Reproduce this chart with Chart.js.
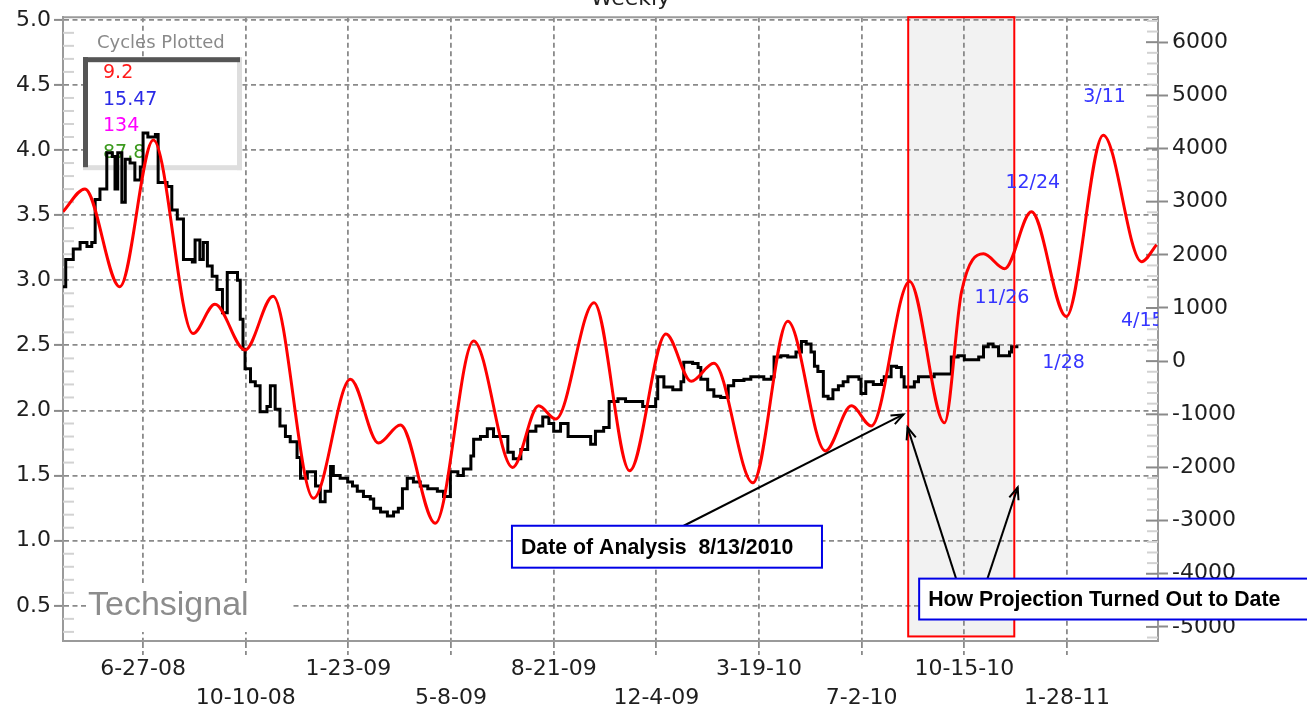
<!DOCTYPE html>
<html>
<head>
<meta charset="utf-8">
<title>Weekly cycle projection</title>
<script src="https://cdn.jsdelivr.net/npm/chart.js@4.4.1/dist/chart.umd.min.js"></script>
<style>
  html, body { margin: 0; padding: 0; background: #fff; }
  #wrap { width: 1307px; height: 706px; }
</style>
</head>
<body>
<div id="wrap"><canvas id="chart" width="1307" height="706"></canvas></div>
<script>
// x axis is counted in weeks from 6-27-08
const tickWeeks = [0, 15, 30, 45, 60, 75, 90, 105, 120, 135];
const tickLabels = ['6-27-08', '10-10-08', '1-23-09', '5-8-09', '8-21-09', '12-4-09', '3-19-10', '7-2-10', '10-15-10', '1-28-11'];
const weekMin = -11.7, weekMax = 148.3;

const leftTicks = [0.5, 1.0, 1.5, 2.0, 2.5, 3.0, 3.5, 4.0, 4.5, 5.0];
const leftMin = 0.23, leftMax = 5.02;
const rightTicks = [-5000, -4000, -3000, -2000, -1000, 0, 1000, 2000, 3000, 4000, 5000, 6000];
const rightMin = -5265, rightMax = 6470;

// black weekly price (left axis)
const priceWeeks = [-11.7,-11.3,-10.2,-9.2,-8.2,-7.5,-7.0,-6.3,-5.3,-4.5,
  -4.1,-3.7,-3.1,-2.6,-1.9,-1.2,-0.4,0,0.7,1.8,
  2.2,3.5,4.2,5.0,5.9,7.2,7.6,8.3,8.8,9.4,
  10.1,10.8,11.6,12.3,13.8,14.2,14.6,14.9,15.7,16.4,
  17.1,18.1,18.6,19.3,20.0,20.8,21.5,22.5,23.0,24.0,
  25.2,25.9,26.6,27.4,27.8,28.8,29.9,30.6,31.3,32.2,
  33.2,33.7,34.7,35.7,36.6,37.3,37.9,38.6,39.5,40.5,
  41.6,43.0,43.9,44.9,46.0,46.8,47.9,48.3,49.3,50.3,
  51.2,52.2,53.3,54.1,55.2,56.2,57.4,58.4,59.3,60.0,
  61.0,62.1,63.5,64.7,65.4,66.1,67.3,68.1,69.4,70.5,
  71.7,73.0,74.2,74.9,75.2,76.1,77.4,78.6,79.0,80.3,
  81.1,81.5,82.5,83.4,84.4,85.5,86.3,87.8,88.8,89.9,
  90.7,91.8,92.2,93.2,94.2,95.4,96.2,96.9,97.6,98.1,
  98.6,99.4,100.1,100.8,101.6,102.3,103.0,103.8,104.6,104.9,
  105.6,106.7,107.9,108.3,109.3,110.1,110.8,111.2,112.0,112.7,
  113.3,114.7,115.6,116.6,117.7,118.1,119.1,120.0,121.0,122.1,
  122.8,123.5,124.2,125.0,125.7,126.6,126.9,127.9];
const priceValues = [2.95,3.16,3.24,3.29,3.26,3.29,3.62,3.70,3.98,3.95,
  3.70,3.98,3.60,3.93,3.90,3.77,3.87,4.13,4.10,4.12,
  3.75,3.72,3.54,3.47,3.16,3.14,3.31,3.16,3.29,3.11,
  3.03,2.93,2.75,3.06,3.00,2.70,2.47,2.32,2.22,2.19,
  1.99,2.03,2.19,2.01,1.88,1.80,1.76,1.64,1.48,1.53,
  1.42,1.30,1.38,1.57,1.50,1.48,1.45,1.42,1.38,1.34,
  1.32,1.25,1.22,1.19,1.22,1.25,1.40,1.48,1.45,1.42,
  1.40,1.38,1.34,1.53,1.50,1.55,1.65,1.78,1.80,1.86,
  1.80,1.80,1.68,1.63,1.70,1.84,1.88,1.95,1.90,1.84,
  1.90,1.80,1.80,1.80,1.74,1.84,1.87,2.07,2.09,2.07,
  2.07,2.03,2.03,2.09,2.26,2.18,2.16,2.22,2.37,2.36,
  2.33,2.24,2.16,2.11,2.10,2.19,2.23,2.24,2.26,2.26,
  2.24,2.26,2.41,2.42,2.41,2.45,2.53,2.51,2.45,2.34,
  2.30,2.11,2.09,2.16,2.19,2.22,2.26,2.26,2.24,2.13,
  2.22,2.20,2.23,2.26,2.34,2.33,2.26,2.18,2.18,2.22,
  2.26,2.26,2.28,2.28,2.28,2.41,2.42,2.39,2.39,2.41,
  2.49,2.51,2.49,2.42,2.42,2.45,2.49,2.49];

// red composite cycle (right axis)
const cycleWeeks = [-11.7,-8.5,-3.4,1.5,7.3,10.5,14.9,19.0,24.9,30.3,
  34.4,37.6,42.7,48.3,54.0,57.8,60.3,65.9,71.1,76.4,
  80.1,83.4,89.1,94.2,99.7,103.5,106.4,112.0,117.1,119.6,
  122.8,125.9,129.8,134.9,140.3,145.9,148.1];
const cycleValues = [2810,3240,1400,4160,520,1070,210,1220,-2580,-340,
  -1540,-1200,-3050,380,-2000,-840,-1090,1100,-2060,510,
  -380,-40,-2290,750,-1690,-840,-1220,1500,-1160,1310,
  2020,1740,2810,840,4250,1870,2190];

const cyclesPlotted = ['9.2', '15.47', '134', '87.8'];
const cyclesColors = ['#ff1a1a', '#2a2ae6', '#ff00ff', '#3c9a1e'];

// turning-point dates written on the projection
const dateLabels = ['3/11', '12/24', '11/26', '4/15', '1/28'];
const dateLabelWeeks = [140.5, 130.0, 125.5, 146.0, 134.5];
const dateLabelLevels = [4960, 3350, 1180, 750, -40];

// shaded window: analysis date to last actual week
const projStart = 111.8, projEnd = 127.3, projBottom = 0.265;

const pricePoints = priceWeeks.map((w, i) => ({ x: w, y: priceValues[i] }));
const cyclePoints = cycleWeeks.map((w, i) => ({ x: w, y: cycleValues[i] }));

const tickFont = { family: 'DejaVu Sans', size: 22 };
const gridColor = '#8a8a8a';

function arrow(ctx, x1, y1, x2, y2) {
  const ang = Math.atan2(y2 - y1, x2 - x1);
  ctx.beginPath();
  ctx.moveTo(x1, y1);
  ctx.lineTo(x2, y2);
  ctx.stroke();
  ctx.beginPath();
  ctx.moveTo(x2 - 13 * Math.cos(ang - 0.38), y2 - 13 * Math.sin(ang - 0.38));
  ctx.lineTo(x2, y2);
  ctx.lineTo(x2 - 13 * Math.cos(ang + 0.38), y2 - 13 * Math.sin(ang + 0.38));
  ctx.stroke();
}

const overlay = {
  id: 'overlay',
  beforeDraw(chart) {
    const { ctx, chartArea: a, scales: { x, y } } = chart;
    const x0 = x.getPixelForValue(projStart), x1 = x.getPixelForValue(projEnd);
    ctx.save();
    ctx.fillStyle = '#f2f2f2';
    ctx.fillRect(x0, a.top, x1 - x0, y.getPixelForValue(projBottom) - a.top);
    ctx.restore();
  },
  beforeDatasetsDraw(chart) {
    const { ctx, chartArea: a, scales: { y, y1 } } = chart;
    ctx.save();
    // top frame
    ctx.strokeStyle = '#9a9a9a';
    ctx.lineWidth = 2;
    ctx.beginPath();
    ctx.moveTo(a.left, a.top);
    ctx.lineTo(a.right, a.top);
    ctx.stroke();

    // minor ticks
    ctx.strokeStyle = '#d2d2d2';
    ctx.lineWidth = 2;
    for (let k = 3; k <= 50; k++) {
      if (k % 5 === 0) continue;
      const py = y.getPixelForValue(k / 10);
      ctx.beginPath(); ctx.moveTo(a.left, py); ctx.lineTo(a.left + 11, py); ctx.stroke();
    }
    for (let v = -5200; v <= 6400; v += 200) {
      if (v % 1000 === 0) continue;
      const py = y1.getPixelForValue(v);
      ctx.beginPath(); ctx.moveTo(a.right - 11, py); ctx.lineTo(a.right, py); ctx.stroke();
    }
    ctx.strokeStyle = '#8a8a8a';
    rightTicks.forEach(v => {
      const py = y1.getPixelForValue(v);
      ctx.beginPath(); ctx.moveTo(a.right - 12, py); ctx.lineTo(a.right, py); ctx.stroke();
    });

    // cycles legend box
    const bx = a.left + 20, by = a.top + 40, bw = 159, bh = 113;
    ctx.fillStyle = '#fff';
    ctx.fillRect(bx, by, bw, bh);
    ctx.fillStyle = '#dedede';
    ctx.fillRect(bx + bw - 5, by, 5, bh);
    ctx.fillRect(bx, by + bh - 5, bw, 5);
    ctx.fillStyle = '#555';
    ctx.fillRect(bx, by, 5, bh - 3);
    ctx.fillRect(bx, by, bw - 2, 5);

    ctx.textBaseline = 'middle';
    ctx.textAlign = 'left';
    ctx.font = '18px "DejaVu Sans"';
    ctx.fillStyle = '#8a8a8a';
    ctx.fillText('Cycles Plotted', bx + 14, by - 14);
    ctx.font = '19px "DejaVu Sans"';
    cyclesPlotted.forEach((t, i) => {
      ctx.fillStyle = cyclesColors[i];
      ctx.fillText(t, bx + 20, by + 16 + i * 26.5);
    });

    // watermark
    ctx.fillStyle = '#fff';
    ctx.fillRect(a.left + 24, a.bottom - 58, 204, 49);
    ctx.fillStyle = '#8c8c8c';
    ctx.font = '34px "Liberation Sans"';
    ctx.textBaseline = 'alphabetic';
    ctx.fillText('Techsignal', a.left + 25, a.bottom - 26);
    ctx.restore();
  },
  afterDatasetsDraw(chart) {
    const { ctx, chartArea: a, scales: { x, y, y1 } } = chart;
    ctx.save();
    const x0 = x.getPixelForValue(projStart), x1 = x.getPixelForValue(projEnd);
    ctx.strokeStyle = '#ff0000';
    ctx.lineWidth = 2;
    ctx.strokeRect(x0, a.top, x1 - x0, y.getPixelForValue(projBottom) - a.top);

    ctx.beginPath();
    ctx.rect(a.left, a.top, a.right - a.left, a.bottom - a.top);
    ctx.clip();
    ctx.font = '19px "DejaVu Sans"';
    ctx.fillStyle = '#3535ff';
    ctx.textAlign = 'center';
    ctx.textBaseline = 'middle';
    dateLabels.forEach((t, i) => {
      ctx.fillText(t, x.getPixelForValue(dateLabelWeeks[i]), y1.getPixelForValue(dateLabelLevels[i]));
    });
    ctx.restore();
  },
  afterDraw(chart) {
    const { ctx, chartArea: a, scales: { x, y } } = chart;
    ctx.save();
    // title, cut off by the top edge
    ctx.font = '22px "DejaVu Sans"';
    ctx.fillStyle = '#222';
    ctx.textAlign = 'center';
    ctx.textBaseline = 'alphabetic';
    ctx.fillText('Weekly', (a.left + a.right) / 2 + 20, 5);

    ctx.strokeStyle = '#000';
    ctx.lineWidth = 2;
    arrow(ctx, x.getPixelForValue(79.0), y.getPixelForValue(1.115), x.getPixelForValue(111.1), y.getPixelForValue(1.97));
    arrow(ctx, x.getPixelForValue(118.8), y.getPixelForValue(0.709), x.getPixelForValue(111.7), y.getPixelForValue(1.87));
    arrow(ctx, x.getPixelForValue(123.2), y.getPixelForValue(0.68), x.getPixelForValue(127.8), y.getPixelForValue(1.41));

    ctx.font = 'bold 21.3px "Liberation Sans"';
    ctx.textAlign = 'left';
    ctx.textBaseline = 'middle';
    const box = (w0, w1, v0, v1, text) => {
      const bx0 = x.getPixelForValue(w0);
      const bx1 = w1 === null ? chart.width + 5 : x.getPixelForValue(w1);
      const by0 = y.getPixelForValue(v0), by1 = y.getPixelForValue(v1);
      ctx.fillStyle = '#fff';
      ctx.fillRect(bx0, by0, bx1 - bx0, by1 - by0);
      ctx.strokeStyle = '#0000e6';
      ctx.lineWidth = 2;
      ctx.strokeRect(bx0, by0, bx1 - bx0, by1 - by0);
      ctx.fillStyle = '#000';
      ctx.fillText(text, bx0 + 9, (by0 + by1) / 2 + 1);
    };
    box(53.9, 99.2, 1.115, 0.793, 'Date of Analysis  8/13/2010');
    box(113.4, null, 0.709, 0.395, 'How Projection Turned Out to Date');
    ctx.restore();
  }
};

new Chart(document.getElementById('chart'), {
  type: 'line',
  data: {
    datasets: [
      {
        label: 'Cycle projection',
        data: cyclePoints,
        yAxisID: 'y1',
        borderColor: '#ff0000',
        borderWidth: 3,
        pointRadius: 0,
        cubicInterpolationMode: 'monotone',
        fill: false
      },
      {
        label: 'Weekly price',
        data: pricePoints,
        yAxisID: 'y',
        borderColor: '#000000',
        borderWidth: 3,
        pointRadius: 0,
        stepped: true,
        fill: false
      }
    ]
  },
  options: {
    responsive: false,
    animation: false,
    events: [],
    layout: { padding: { top: 17, left: 0, right: 0, bottom: 0 } },
    plugins: { legend: { display: false }, tooltip: { enabled: false } },
    scales: {
      x: {
        type: 'linear',
        min: weekMin,
        max: weekMax,
        afterBuildTicks: s => { s.ticks = tickWeeks.map(v => ({ value: v })); },
        afterFit: s => { s.height = 65; },
        grid: { color: gridColor, lineWidth: 1.8, tickLength: 14, tickColor: gridColor, tickWidth: 1.8, tickBorderDash: [6, 3] },
        border: { display: true, color: '#9a9a9a', width: 2, dash: [5, 3.5] },
        ticks: {
          autoSkip: false, maxRotation: 0, padding: 0, color: '#1e1e1e',
          font: { family: 'DejaVu Sans', size: 22, lineHeight: 1.3 },
          callback: v => {
            const i = tickWeeks.indexOf(v);
            return i % 2 === 0 ? [tickLabels[i], ''] : ['', tickLabels[i]];
          }
        }
      },
      y: {
        position: 'left',
        min: leftMin,
        max: leftMax,
        afterBuildTicks: s => { s.ticks = leftTicks.map(v => ({ value: v })); },
        afterFit: s => { s.width = 63; },
        grid: { color: gridColor, lineWidth: 1.8, tickLength: 9, tickColor: '#8a8a8a', tickWidth: 2, tickBorderDash: [] },
        border: { display: true, color: '#9a9a9a', width: 2, dash: [5, 3.5] },
        ticks: { padding: 3, color: '#1e1e1e', font: tickFont, callback: v => v.toFixed(1) }
      },
      y1: {
        position: 'right',
        min: rightMin,
        max: rightMax,
        afterBuildTicks: s => { s.ticks = rightTicks.map(v => ({ value: v })); },
        afterFit: s => { s.width = 149; },
        grid: { drawOnChartArea: false, tickLength: 10, tickColor: '#8a8a8a', tickWidth: 2 },
        border: { display: true, color: '#9a9a9a', width: 2 },
        ticks: { padding: 4, color: '#1e1e1e', font: tickFont, callback: v => String(v) }
      }
    }
  },
  plugins: [overlay]
});
</script>
</body>
</html>
